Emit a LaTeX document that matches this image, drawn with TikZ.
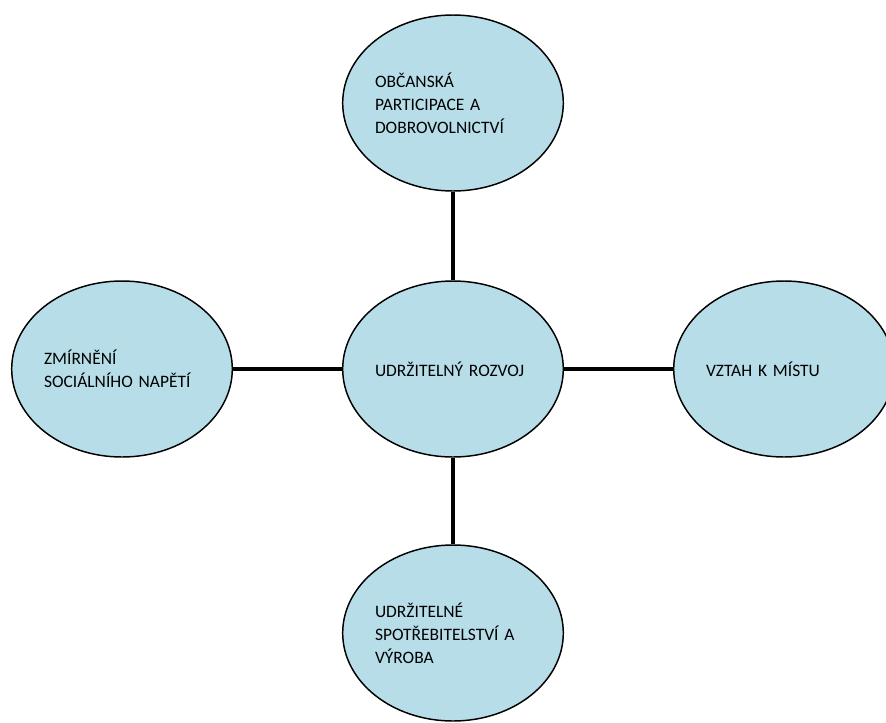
\documentclass[tikz,border=0pt]{standalone}
\usepackage{fontspec}
\setmainfont{Carlito}
\usetikzlibrary{shapes.geometric}
\definecolor{bublina}{HTML}{B7DEE8}
\begin{document}
\begin{tikzpicture}[x=0.75pt, y=-0.75pt,
	tema/.style={ellipse, draw=black, line width=1.1pt, fill=bublina, inner sep=0pt,
		minimum width=165pt, minimum height=132pt, text width=117pt, align=left,
		font=\fontsize{13.1}{17.25}\selectfont},
	spoj/.style={line width=3.6pt, black}]
			%Page
			\path[fill=white] (0,0) rectangle (886,722);
			\useasboundingbox (0,0) rectangle (886,722);
			%Bubbles
			\node[tema] (rozvoj) at (453,369) {UDRŽITELNÝ ROZVOJ};
			\node[tema] (obcanska) at (453,103) {OBČANSKÁ\\PARTICIPACE A\\DOBROVOLNICTVÍ};
			\node[tema] (napeti) at (122,369) {ZMÍRNĚNÍ\\SOCIÁLNÍHO NAPĚTÍ};
			\node[tema] (misto) at (784,369) {VZTAH K MÍSTU};
			\node[tema] (vyroba) at (453,633) {UDRŽITELNÉ\\SPOTŘEBITELSTVÍ A\\VÝROBA};
			%Links
			\draw[spoj] (obcanska) -- (rozvoj);
			\draw[spoj] (napeti) -- (rozvoj);
			\draw[spoj] (rozvoj) -- (misto);
			\draw[spoj] (rozvoj) -- (vyroba);
\end{tikzpicture}
\end{document}
